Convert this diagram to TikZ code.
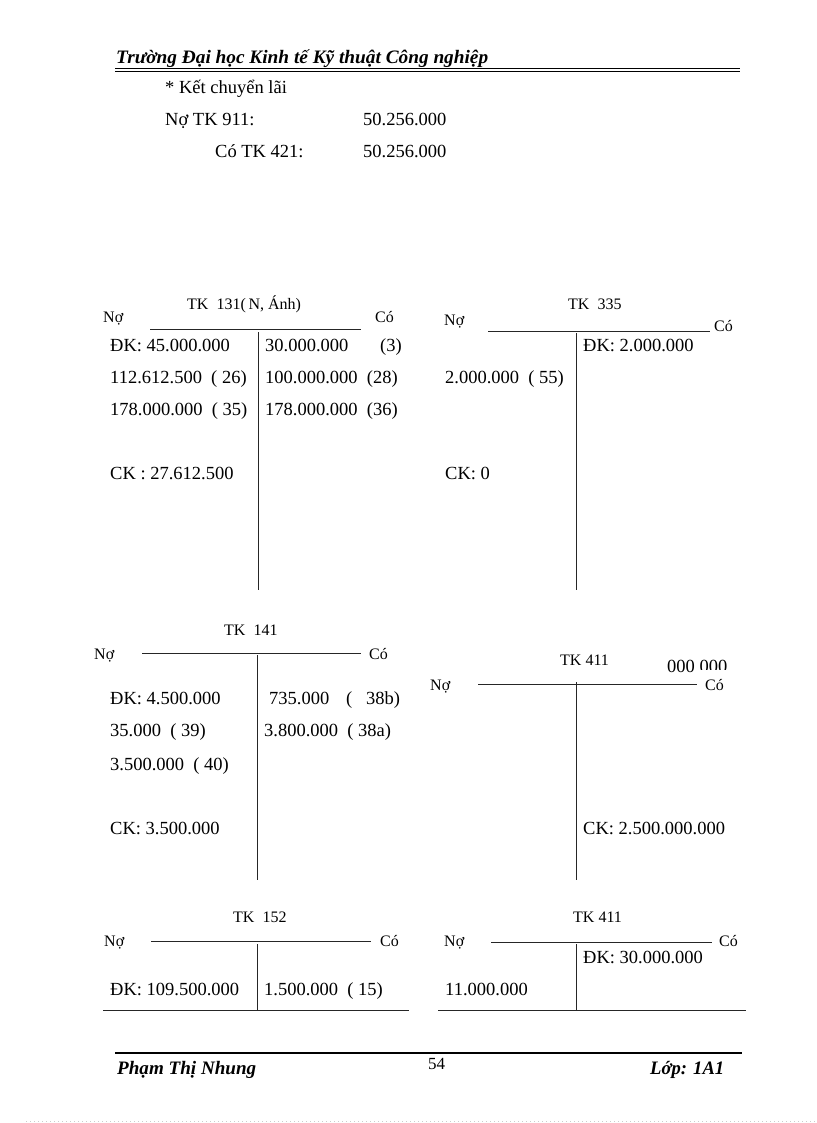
\documentclass[tikz,border=0pt]{standalone}
\usepackage{fontspec}
\setmainfont{Liberation Serif}
\usepackage{graphicx}
\begin{document}
\begin{tikzpicture}[x=1pt,y=-1pt,
  val/.style={anchor=base west, inner sep=0pt, font=\fontsize{18.5}{20}\selectfont},
  lbl/.style={anchor=base west, inner sep=0pt, font=\fontsize{16}{18}\selectfont},
  rul/.style={line width=0.9pt, draw=black!85},
  hdr/.style={anchor=base west, inner sep=0pt, font=\fontsize{19}{21}\selectfont\bfseries\itshape}]
\useasboundingbox (0,0) rectangle (816,1123);
\fill[white] (0,0) rectangle (816,1123);

% header
\node[hdr] (head) at (116,64) {\resizebox{372pt}{\height}{Trường Đại học Kinh tế Kỹ thuật Công nghiệp}};
\coordinate (h1a) at (115,68.5); \coordinate (h1b) at (740,68.5);
\coordinate (h2a) at (115,71.8); \coordinate (h2b) at (740,71.8);
\draw[line width=1.5pt] (h1a) -- (h1b);
\draw[line width=0.7pt] (h2a) -- (h2b);

% journal entry
\node[val] (kc) at (165,94) {* Kết chuyển lãi};
\node[val] (no911) at (165,126) {Nợ TK 911:};
\node[val] (v1) at (363,126) {50.256.000};
\node[val] (co421) at (215,158) {Có TK 421:};
\node[val] (v2) at (363,158) {50.256.000};

% ---------- TK 131
\node[lbl] (t131) at (187,309) {TK\ \ 131(\,N, Ánh)};
\node[lbl] (n131) at (103,322) {Nợ};
\node[lbl] (c131) at (375,322) {Có};
\coordinate (a1l) at (150,329); \coordinate (a1r) at (361,329);
\coordinate (a1t) at (258,332); \coordinate (a1b) at (258,590);
\draw[rul] (a1l) -- (a1r);
\draw[rul] (a1t) -- (a1b);
\node[val] (a1x1) at (110,351) {ĐK: 45.000.000};
\node[val] (a1x2) at (110,383) {112.612.500\ \ ( 26)};
\node[val] (a1x3) at (110,415) {178.000.000\ \ ( 35)};
\node[val] (a1x4) at (110,479) {CK : 27.612.500};
\node[val] (a1y1) at (265,351) {30.000.000};
\node[val] (a1y1b) at (380,351) {(3)};
\node[val] (a1y2) at (265,383) {100.000.000\ \ (28)};
\node[val] (a1y3) at (265,415) {178.000.000\ \ (36)};

% ---------- TK 335
\node[lbl] (t335) at (568,309) {TK\ \ 335};
\node[lbl] (n335) at (444,325) {Nợ};
\node[lbl] (c335) at (714,331) {Có};
\coordinate (a2l) at (488,331); \coordinate (a2r) at (710,331);
\coordinate (a2t) at (576,333); \coordinate (a2b) at (576,590);
\draw[rul] (a2l) -- (a2r);
\draw[rul] (a2t) -- (a2b);
\node[val] (a2y1) at (583,351) {ĐK: 2.000.000};
\node[val] (a2x1) at (445,383) {2.000.000\ \ ( 55)};
\node[val] (a2x2) at (445,479) {CK: 0};

% ---------- TK 141
\node[lbl] (t141) at (224,635) {TK\ \ 141};
\node[lbl] (n141) at (94,659) {Nợ};
\node[lbl] (c141) at (369,659) {Có};
\coordinate (a3l) at (142,653); \coordinate (a3r) at (361,653);
\coordinate (a3t) at (257,655); \coordinate (a3b) at (257,880);
\draw[rul] (a3l) -- (a3r);
\draw[rul] (a3t) -- (a3b);
\node[val] (a3x1) at (110,704) {ĐK: 4.500.000};
\node[val] (a3x2) at (110,736) {35.000\ \ ( 39)};
\node[val] (a3x3) at (110,770) {3.500.000\ \ ( 40)};
\node[val] (a3x4) at (110,834) {CK: 3.500.000};
\node[val] (a3y1) at (269,704) {735.000};
\node[val] (a3y1p) at (346,704) {(};
\node[val] (a3y1b) at (366,704) {38b)};
\node[val] (a3y2) at (264,736) {3.800.000\ \ ( 38a)};

% ---------- TK 411 (a)
\node[lbl] (t411a) at (560,665) {TK 411};
\begin{scope}
  \clip (660,650) rectangle (697,676) (697,650) rectangle (740,669);
  \node[val] (clip000) at (667,672) {000 000};
\end{scope}
\node[lbl] (n411a) at (430,690) {Nợ};
\node[lbl] (c411a) at (705,690) {Có};
\coordinate (a4l) at (478,684); \coordinate (a4r) at (697,684);
\coordinate (a4t) at (576,682); \coordinate (a4b) at (576,880);
\draw[rul] (a4l) -- (a4r);
\draw[rul] (a4t) -- (a4b);
\node[val] (a4y1) at (583,834) {CK: 2.500.000.000};

% ---------- TK 152
\node[lbl] (t152) at (233,922) {TK\ \ 152};
\node[lbl] (n152) at (104,946) {Nợ};
\node[lbl] (c152) at (380,946) {Có};
\coordinate (a5l) at (151,941); \coordinate (a5r) at (371,941);
\coordinate (a5t) at (257,944); \coordinate (a5b) at (257,1010);
\coordinate (a5bl) at (103,1010); \coordinate (a5br) at (409,1010);
\draw[rul] (a5l) -- (a5r);
\draw[rul] (a5t) -- (a5b);
\draw[rul] (a5bl) -- (a5br);
\node[val] (a5x1) at (110,995) {ĐK: 109.500.000};
\node[val] (a5y1) at (264,995) {1.500.000\ \ ( 15)};

% ---------- TK 411 (b)
\node[lbl] (t411b) at (573,922) {TK 411};
\node[lbl] (n411b) at (444,946) {Nợ};
\node[lbl] (c411b) at (719,946) {Có};
\coordinate (a6l) at (491,942); \coordinate (a6r) at (712,942);
\coordinate (a6t) at (576,944); \coordinate (a6b) at (576,1010);
\coordinate (a6bl) at (438,1010); \coordinate (a6br) at (746,1010);
\draw[rul] (a6l) -- (a6r);
\draw[rul] (a6t) -- (a6b);
\draw[rul] (a6bl) -- (a6br);
\node[val] (a6y1) at (583,963) {ĐK: 30.000.000};
\node[val] (a6x1) at (445,995) {11.000.000};

% footer
\coordinate (fa) at (115,1053); \coordinate (fb) at (742,1053);
\draw[line width=2pt] (fa) -- (fb);
\node[hdr] (fname) at (117,1074) {\resizebox{139pt}{\height}{Phạm Thị Nhung}};
\node[val, font=\fontsize{17}{19}\selectfont] (fpage) at (428,1069) {54};
\node[hdr] (fclass) at (650,1074) {\resizebox{74pt}{\height}{Lớp: 1A1}};

% faint dotted page edge
\coordinate (da) at (26,1121.5); \coordinate (db) at (816,1121.5);
\draw[black!20, line width=0.6pt, dash pattern=on 1pt off 3pt] (da) -- (db);
\end{tikzpicture}
\end{document}
